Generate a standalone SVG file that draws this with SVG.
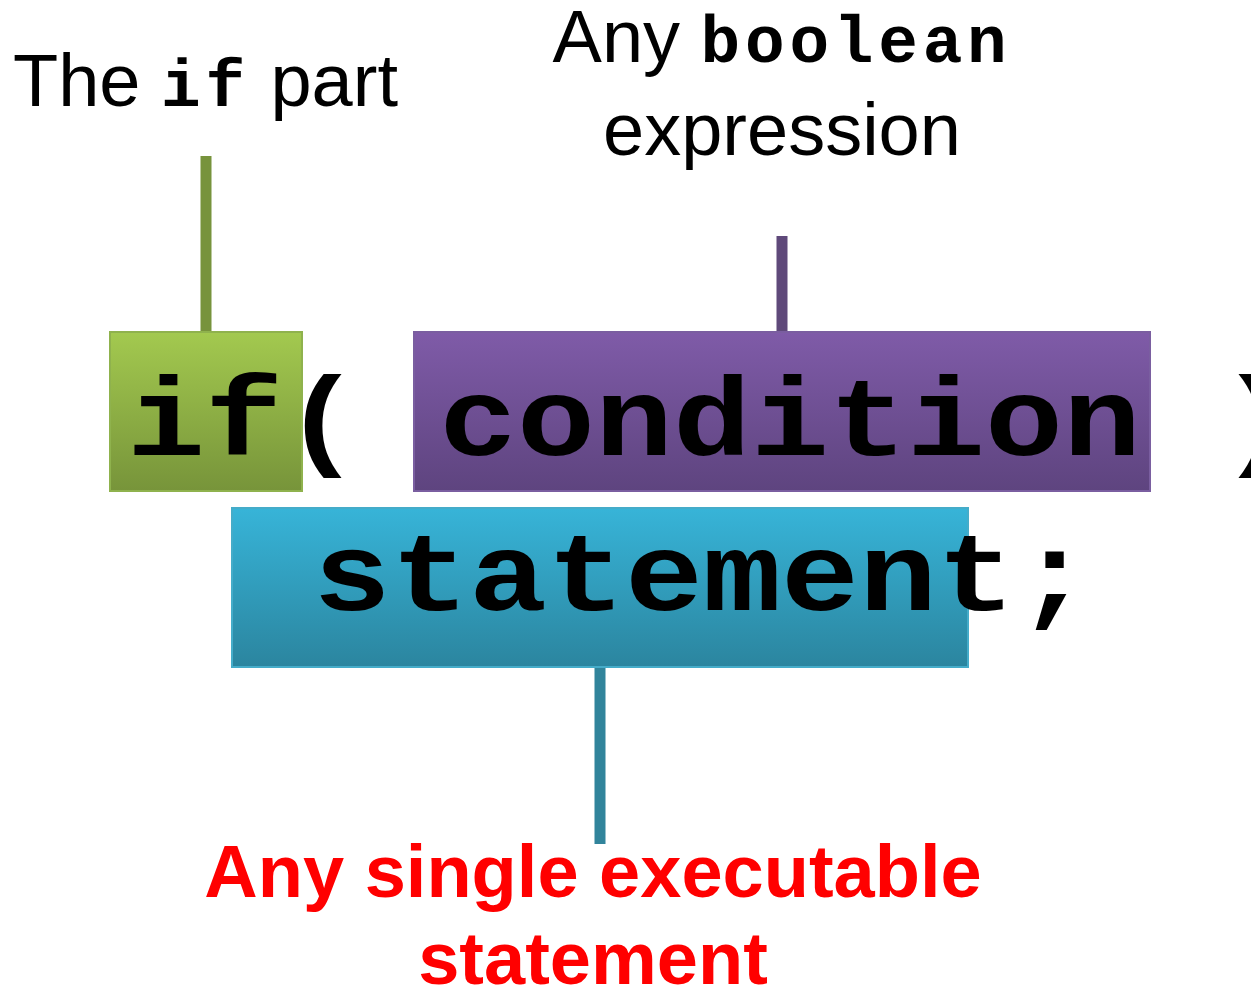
<svg xmlns="http://www.w3.org/2000/svg" width="1251" height="992" viewBox="0 0 1251 992">
  <defs>
    <linearGradient id="gGreen" x1="0" y1="0" x2="0" y2="1">
      <stop offset="0" stop-color="#a3c94f"/>
      <stop offset="1" stop-color="#77943a"/>
    </linearGradient>
    <linearGradient id="gPurple" x1="0" y1="0" x2="0" y2="1">
      <stop offset="0" stop-color="#7f5ba8"/>
      <stop offset="1" stop-color="#5e447f"/>
    </linearGradient>
    <linearGradient id="gCyan" x1="0" y1="0" x2="0" y2="1">
      <stop offset="0" stop-color="#37b4d8"/>
      <stop offset="1" stop-color="#2b859f"/>
    </linearGradient>
    <style>
      .sans { font-family: "Liberation Sans", Arial, sans-serif; font-size: 74px; fill: #000; }
      .mono { font-family: "Liberation Mono", "Courier New", monospace; font-weight: bold; font-size: 66px; letter-spacing: 4.8px; }
      .code { font-family: "Liberation Mono", "Courier New", monospace; font-weight: bold; font-size: 130px; fill: #000; }
      .note { font-family: "Liberation Sans", Arial, sans-serif; font-weight: bold; font-size: 74px; fill: #ff0000; }
      .lead { stroke-width: 11; fill: none; }
    </style>
  </defs>

  <!-- leader lines -->
  <g id="connectors">
    <line class="lead" x1="206" y1="156" x2="206" y2="332" stroke="#77933c"/>
    <line class="lead" x1="782" y1="236" x2="782" y2="332" stroke="#5f497a"/>
    <line class="lead" x1="600" y1="667" x2="600" y2="844" stroke="#31849b"/>
  </g>

  <!-- highlighted code blocks -->
  <g id="if-box">
    <rect x="110" y="332" width="192" height="159" fill="url(#gGreen)" stroke="#8fb24d" stroke-width="2"/>
  </g>
  <g id="condition-box">
    <rect x="414" y="332" width="736" height="159" fill="url(#gPurple)" stroke="#7a5ea0" stroke-width="2"/>
  </g>
  <g id="statement-box">
    <rect x="232" y="508" width="736" height="159" fill="url(#gCyan)" stroke="#45acc9" stroke-width="2"/>
  </g>

  <!-- code text, squeezed vertically to a Courier-like height -->
  <g id="code">
    <text class="code" transform="translate(127 455) scale(1 0.85)" xml:space="preserve">if( condition )</text>
    <text class="code" transform="translate(313 610) scale(1 0.85)">statement;</text>
  </g>

  <!-- labels -->
  <g id="label-if">
    <text class="sans" x="13" y="106" xml:space="preserve">The <tspan class="mono">if</tspan> part</text>
  </g>
  <g id="label-condition">
    <text class="sans" x="782" y="62" text-anchor="middle" xml:space="preserve">Any <tspan class="mono">boolean</tspan></text>
    <text class="sans" x="782" y="155" text-anchor="middle">expression</text>
  </g>
  <g id="label-statement">
    <text class="note" x="593" y="897" text-anchor="middle">Any single executable</text>
    <text class="note" x="593" y="984" text-anchor="middle">statement</text>
  </g>
</svg>
